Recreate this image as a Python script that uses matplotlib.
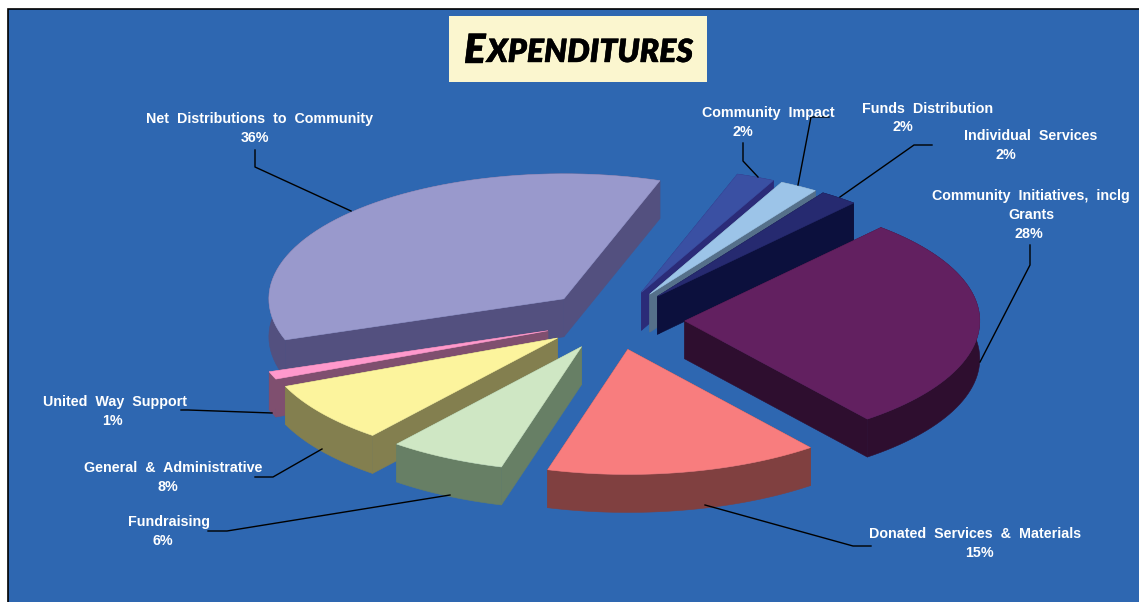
import numpy as np
import matplotlib
matplotlib.use("Agg")
import matplotlib.pyplot as plt
import matplotlib.patheffects as pe
from matplotlib.patches import Polygon, Rectangle

plt.rcParams['font.family'] = ['Liberation Sans', 'DejaVu Sans']

# slices, clockwise from the start angle
names = ['Community  Impact', 'Funds  Distribution', 'Individual  Services',
         'Community  Initiatives,  inclg\nGrants', 'Donated  Services  &  Materials',
         'Fundraising', 'General  &  Administrative', 'United  Way  Support',
         'Net  Distributions  to  Community']
percent = [2.1, 2.1, 2.1, 27.8, 15.0, 6.4, 7.9, 1.0, 35.6]
top_colors = ['#3A50A3', '#9CC4E8', '#262A70', '#622060', '#F87D7E',
              '#CFE7C4', '#FCF49D', '#FF99CC', '#9999CC']
wall_colors = ['#2B2B78', '#55708A', '#0C103D', '#2E0E2F', '#804040',
               '#677F65', '#837F4F', '#7F4F6F', '#53507F']

# pie geometry, in pixels
start_angle = 71
cx, cy = 614, 320
rx, ry = 295, 125
explode = 0.24
depth = 38

# label layout: (x of the name, y of first line, x of the percent, y of the percent)
label_pos = [(768, 113, 743, 132), (928, 109, 903, 127), (1031, 136, 1006, 155),
             (1031, 196, 1029, 234), (975, 534, 979, 553), (169, 522, 163, 541),
             (173, 468, 168, 487), (115, 402, 112, 421), (260, 119, 255, 138)]
leaders = [[(743, 143), (743, 161), (758, 177)],
           [(829, 117), (811, 117), (798, 185)],
           [(932, 145), (914, 145), (840, 197)],
           [(1030, 245), (1030, 265), (980, 362)],
           [(871, 546), (853, 546), (705, 505)],
           [(208, 531), (227, 531), (450, 495)],
           [(255, 477), (273, 477), (322, 449)],
           [(181, 410), (188, 410), (272, 413)],
           [(255, 150), (255, 167), (351, 211)]]

fig = plt.figure(figsize=(11.39, 6.02), dpi=100)
ax = fig.add_axes([0, 0, 1, 1])
ax.set_xlim(0, 1139)
ax.set_ylim(602, 0)
ax.axis('off')

ax.add_patch(Rectangle((7.5, 8.5), 1140, 600, fc='#2E67B1', ec='black', lw=1.2, zorder=0))


def rim(a0, a1, ox, oy):
    t = np.radians(np.linspace(a0, a1, 60))
    return np.column_stack([ox + rx * np.cos(t), oy - ry * np.sin(t)])


ends = start_angle - np.cumsum(percent) * 3.6
starts = ends + np.array(percent) * 3.6
mids = (starts + ends) / 2

# far slices first
order = np.argsort(np.sin(np.radians(mids)))[::-1]
for z, i in enumerate(order):
    m = np.radians(mids[i])
    ox = cx + explode * rx * np.cos(m)
    oy = cy - explode * ry * np.sin(m)
    arc = rim(starts[i], ends[i], ox, oy)
    down = np.array([0, depth])
    apex = np.array([ox, oy])
    base = 10 + z * 5
    # radial walls, then outer wall, then the top
    for edge in (arc[0], arc[-1]):
        wall = np.array([apex, edge, edge + down, apex + down])
        ax.add_patch(Polygon(wall, fc=wall_colors[i], ec=wall_colors[i], lw=0.4, zorder=base))
    ax.add_patch(Polygon(np.vstack([arc, arc[::-1] + down]), fc=wall_colors[i],
                         ec=wall_colors[i], lw=0.4, zorder=base + 1))
    ax.add_patch(Polygon(np.vstack([apex, arc]), fc=top_colors[i], ec=top_colors[i],
                         lw=0.4, zorder=base + 2))

for i, name in enumerate(names):
    nx, ny, px, py = label_pos[i]
    for k, line in enumerate(name.split('\n')):
        ax.text(nx, ny + k * 19, line, color='white', fontsize=10.3, fontweight='bold',
                ha='center', va='center', zorder=100)
    ax.text(px, py, f'{percent[i]:.0f}%', color='white', fontsize=10.3, fontweight='bold',
            ha='center', va='center', zorder=100)
    xs, ys = zip(*leaders[i])
    ax.plot(xs, ys, color='black', lw=1, zorder=90)

# title box
ax.add_patch(Rectangle((449, 16), 258, 66, fc='#FBF6CF', ec='none', zorder=5))
heavy = [pe.withStroke(linewidth=0.3, foreground='black')]
ax.text(464, 63, 'E', fontsize=29, fontstyle='italic', fontweight='heavy',
        family='Lato', color='black', ha='left', va='baseline', zorder=6, path_effects=heavy)
ax.text(487, 62, 'XPENDITURES', fontsize=23, fontstyle='italic', fontweight='heavy',
        family='Lato', color='black', ha='left', va='baseline', zorder=6, path_effects=heavy)

fig.savefig('out.png', dpi=100)
